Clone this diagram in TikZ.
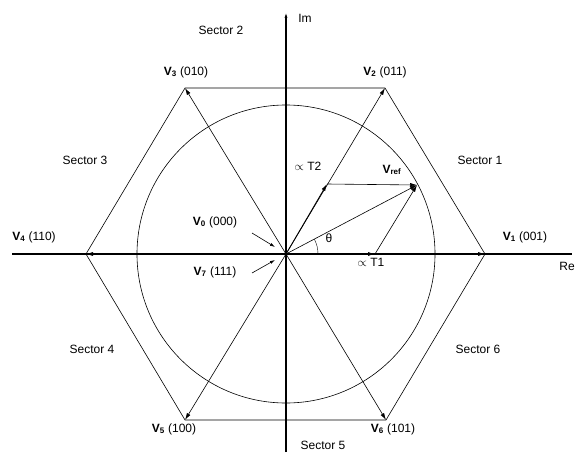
\documentclass[tikz,border=0pt]{standalone}
\usepackage{fontspec}
\setmainfont{Liberation Sans}
\usetikzlibrary{arrows.meta, positioning}

\newcommand{\vlab}[2]{\textbf{V}\textsubscript{\textbf{#1}} (#2)}

\begin{document}
\begin{tikzpicture}[x=1pt, y=-1pt, font=\fontsize{12}{14}\selectfont, vec/.style={-{Latex[length=7pt, width=4pt]}, semithick}, small/.style={-{Latex[length=5pt, width=3pt]}, semithick}, axis/.style={line width=1.1pt}, lbl/.style={inner sep=1pt}]
\useasboundingbox (0,0) rectangle (575,452);

% origin, axes and hexagon corners
\coordinate (O) at (286,254);
\coordinate (reL) at (12,254);
\coordinate (reR) at (572,254);
\coordinate (imB) at (286,452);
\coordinate (imT) at (286,12);
\coordinate (v1) at (485,254);
\coordinate (v2) at (385,88);
\coordinate (v3) at (185,88);
\coordinate (v4) at (86,254);
\coordinate (v5) at (185,420);
\coordinate (v6) at (386,420);

\draw[axis] (reL) -- (reR);
\draw[axis, -{Latex[length=6pt, width=3pt]}] (imB) -- (imT);
\draw[semithick] (O) circle[radius=149];
\draw[semithick] (v1) -- (v2) -- (v3) -- (v4) -- (v5) -- (v6) -- cycle;
\foreach \i in {1,...,6} \draw[vec] (O) -- (v\i);

% reference vector and its parts
\coordinate (ref) at (417,185);
\coordinate (t1) at (375,254);
\coordinate (t2) at (327,184);
\draw[vec, thick] (O) -- (t1);
\draw[vec, thick] (O) -- (t2);
\draw[vec] (O) -- (ref);
\draw[vec] (t2) -- (ref);
\draw[vec] (t1) -- (ref);
\draw (O) ++(32,0) arc[start angle=0, end angle=-28, radius=32];

% zero vectors
\coordinate (z0s) at (252,233);
\coordinate (z0e) at (275,247);
\coordinate (z7s) at (252,273);
\coordinate (z7e) at (275,260);
\draw[small] (z0s) -- (z0e);
\draw[small] (z7s) -- (z7e);

% labels
\node[lbl] (lv1) at (525,237) {\vlab{1}{001}};
\node[lbl] (lv2) at (385,72) {\vlab{2}{011}};
\node[lbl] (lv3) at (186,72) {\vlab{3}{010}};
\node[lbl] (lv4) at (34,237) {\vlab{4}{110}};
\node[lbl] (lv5) at (174,429) {\vlab{5}{100}};
\node[lbl] (lv6) at (393,429) {\vlab{6}{101}};
\node[lbl] (lv0) at (215,222) {\vlab{0}{000}};
\node[lbl] (lv7) at (215,272) {\vlab{7}{111}};
\node[lbl] (lref) at (392,170) {\textbf{V}\textsubscript{\textbf{ref}}};
\node[lbl] (lt1) at (371,262) {$\propto$ T1};
\node[lbl] (lt2) at (308,166) {$\propto$ T2};
\node[lbl] (lth) at (329,238) {θ};
\node[lbl] (lre) at (567,266) {Re};
\node[lbl] (lim) at (305,18) {Im};

\node[lbl] (s1) at (480,160) {Sector 1};
\node[lbl] (s2) at (221,30) {Sector 2};
\node[lbl] (s3) at (85,160) {Sector 3};
\node[lbl] (s4) at (92,349) {Sector 4};
\node[lbl] (s5) at (323,445) {Sector 5};
\node[lbl] (s6) at (478,349) {Sector 6};
\end{tikzpicture}
\end{document}
